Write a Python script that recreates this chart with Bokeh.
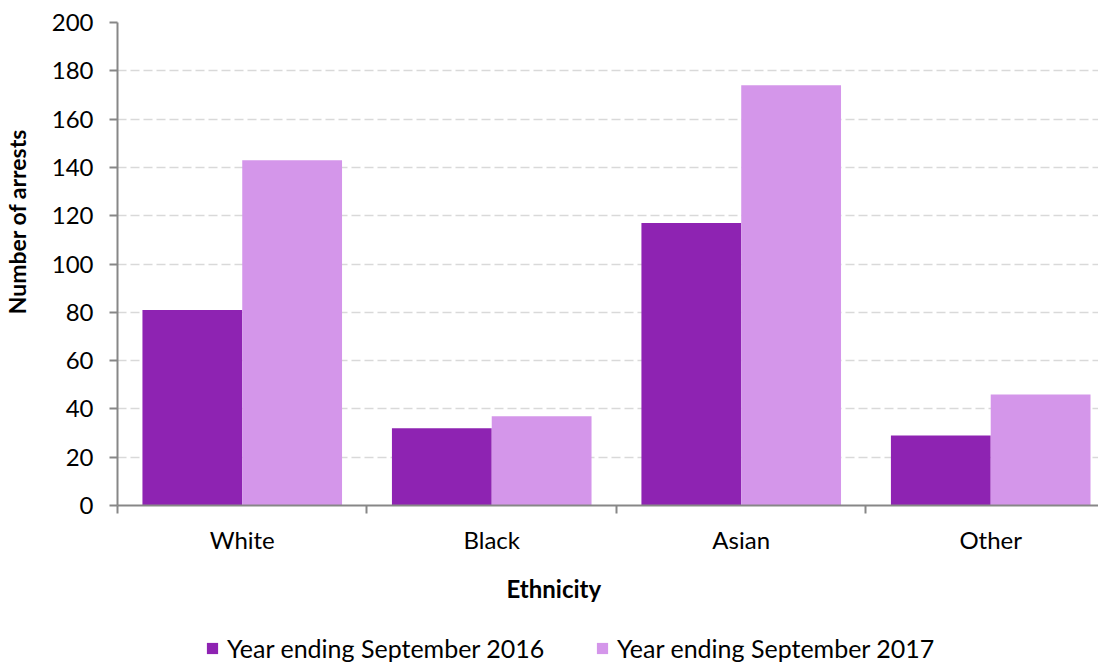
from bokeh.plotting import figure
from bokeh.layouts import column
from bokeh.models import (Range1d, FixedTicker, Legend, LegendItem, LinearAxis,
                          ColumnDataSource)
from bokeh.embed import file_html
from bokeh.resources import INLINE

categories = ["White", "Black", "Asian", "Other"]
series_names = ["Year ending September 2016", "Year ending September 2017"]
arrests_2016 = [81, 32, 117, 29]
arrests_2017 = [143, 37, 174, 46]
y_ticks = [0, 20, 40, 60, 80, 100, 120, 140, 160, 180, 200]
x_title = "Ethnicity"
y_title = "Number of arrests"

FONT = "Lato"
FS = "24px"
FS_YT = "23px"
FS_LEG = "25px"
DARK = "#8E23B2"
LIGHT = "#D496EA"
AXIS = "#878787"

W = 1098
H_LEG = 40
H_MAIN = 663 - H_LEG

centers = [i + 0.5 for i in range(len(categories))]
src = ColumnDataSource(dict(
    cat=categories,
    x16=[c - 0.2 for c in centers],
    x17=[c + 0.2 for c in centers],
    v16=arrests_2016,
    v17=arrests_2017,
))

p = figure(width=W, height=H_MAIN, output_backend="svg", toolbar_location=None,
           x_range=Range1d(0, 3.932), y_range=Range1d(0, 200),
           min_border_left=111, min_border_right=0, min_border_top=22,
           min_border_bottom=H_MAIN - 22 - 483, outline_line_color=None)

r16 = p.vbar(x="x16", top="v16", bottom=0, width=0.4, source=src,
             fill_color=DARK, line_color=None)
r17 = p.vbar(x="x17", top="v17", bottom=0, width=0.4, source=src,
             fill_color=LIGHT, line_color=None)

# grid
p.xgrid.grid_line_color = None
p.ygrid.grid_line_color = "#D9D9D9"
p.ygrid.grid_line_width = 1.5
p.ygrid.grid_line_dash = "9 4"

# x axis: category labels centred, tick marks between categories
xa = p.xaxis[0]
xa.ticker = FixedTicker(ticks=centers, minor_ticks=list(range(len(categories) + 1)))
xa.major_label_overrides = {c: name for c, name in zip(centers, categories)}
xa.major_tick_line_color = None
xa.major_tick_out = 0
xa.major_tick_in = 0
xa.minor_tick_out = 8
xa.minor_tick_in = 0
xa.minor_tick_line_color = AXIS
xa.minor_tick_line_width = 2
xa.axis_line_color = AXIS
xa.axis_line_width = 2
xa.major_label_standoff = 11
xa.major_label_text_font = FONT
xa.major_label_text_font_size = FS
xa.major_label_text_color = "#000000"

# x axis title as a one-label axis (left of frame centre, as in reference)
x_title_pos = 1.749
xt = LinearAxis(ticker=FixedTicker(ticks=[x_title_pos], minor_ticks=[]),
                major_label_overrides={x_title_pos: x_title},
                axis_line_color=None, major_tick_line_color=None,
                minor_tick_line_color=None, major_tick_out=0, major_tick_in=0,
                major_label_standoff=17,
                major_label_text_font=FONT, major_label_text_font_size=FS,
                major_label_text_font_style="bold", major_label_text_color="#000000")
p.add_layout(xt, "below")

# y axis
ya = p.yaxis[0]
ya.ticker = FixedTicker(ticks=y_ticks)
ya.minor_tick_line_color = None
ya.major_tick_out = 8
ya.major_tick_in = 0
ya.major_tick_line_color = AXIS
ya.major_tick_line_width = 2
ya.axis_line_color = AXIS
ya.axis_line_width = 2
ya.major_label_standoff = 16
ya.major_label_text_font = FONT
ya.major_label_text_font_size = FS
ya.major_label_text_color = "#000000"

# y axis title as a one-label rotated axis (above frame centre, as in reference)
y_title_pos = 117.6
yt = LinearAxis(ticker=FixedTicker(ticks=[y_title_pos], minor_ticks=[]),
                major_label_overrides={y_title_pos: y_title},
                major_label_orientation="vertical",
                axis_line_color=None, major_tick_line_color=None,
                minor_tick_line_color=None, major_tick_out=0, major_tick_in=0,
                major_label_standoff=17,
                major_label_text_font=FONT, major_label_text_font_size=FS_YT,
                major_label_text_font_style="bold", major_label_text_color="#000000")
p.add_layout(yt, "left")

# legend strip below the chart (frames of the column are aligned)
pl = figure(width=W, height=H_LEG, output_backend="svg", toolbar_location=None,
            x_range=Range1d(10, 11), y_range=Range1d(1000, 1001),
            min_border=0, outline_line_color=None)
pl.axis.visible = False
pl.grid.visible = False
# zero-height proxies lying outside the strip's ranges: they only lend their colours to the legend
l16 = pl.vbar(x="x16", top="v16", bottom="v16", width=0.4, source=src,
              fill_color=DARK, line_color=None)
l17 = pl.vbar(x="x17", top="v17", bottom="v17", width=0.4, source=src,
              fill_color=LIGHT, line_color=None)
legend = Legend(items=[LegendItem(label=series_names[0], renderers=[l16]),
                       LegendItem(label=series_names[1], renderers=[l17])],
                orientation="horizontal", location=(88, 0),
                glyph_width=14, glyph_height=14, label_standoff=8,
                label_width=368, spacing=0, padding=0, margin=0,
                border_line_color=None, background_fill_alpha=0,
                label_text_font=FONT, label_text_font_size=FS_LEG,
                label_text_color="#000000")
pl.add_layout(legend, "center")

layout = column(p, pl, spacing=0)
open("out.html", "w").write(file_html(layout, INLINE))
